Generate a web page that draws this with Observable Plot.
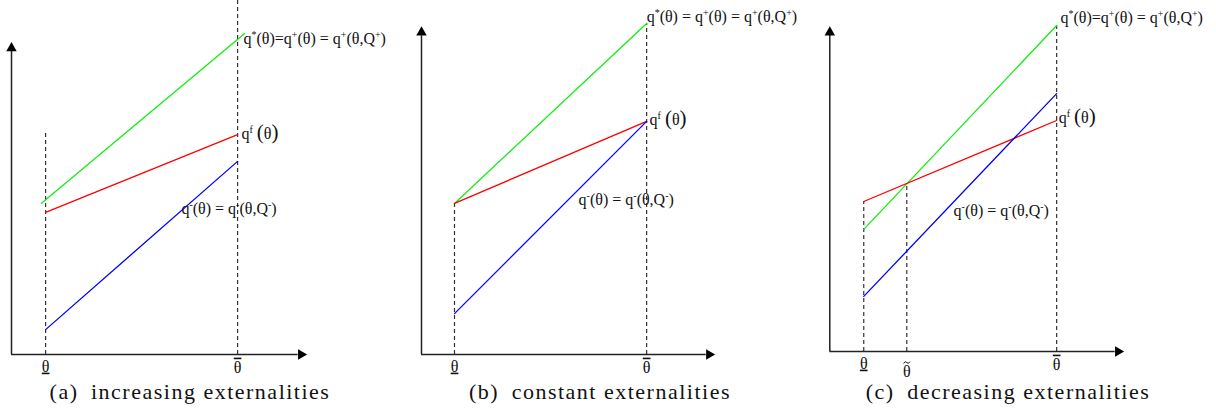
<!DOCTYPE html>
<html><head><meta charset="utf-8">
<script src="https://cdn.jsdelivr.net/npm/d3@7"></script>
<script src="https://cdn.jsdelivr.net/npm/@observablehq/plot@0.6"></script>
<style>
body{margin:0;background:#fff;}
#wrap{position:relative;width:1216px;height:414px;overflow:hidden;}
.panel{position:absolute;top:0;}
.cap{position:absolute;top:379px;font-family:"Liberation Serif","DejaVu Serif",serif;font-size:22px;letter-spacing:1.5px;line-height:26px;white-space:nowrap;transform:translateX(-50%);color:#111;}
</style></head><body><div id="wrap"></div>
<script>
// ---------- data (axes run 0..10 in each panel) ----------
const captions = ["(a)\u2002increasing externalities", "(b)\u2002constant externalities", "(c)\u2002decreasing externalities"];
const tickLabels = ["θ\u0332", "θ", "θ\u0304"]; // lower θ (underlined), θ-tilde (tilde drawn above), upper θ (overlined)
const thetaLow  = [1.16, 1.13, 1.16];
const thetaHigh = [7.69, 7.71, 7.75];
const thetaTilde = 2.63; // only panel (c)

// q*(θ) = q+(θ) (green)
const qStar = [
  [[1.02, 4.86], [7.93, 10.32]],
  [[1.13, 4.62], [7.71, 10.12]],
  [[1.16, 3.77], [7.75, 10.06]]
];
// q^f(θ) (red)
const qFirst = [
  [[1.16, 4.57], [7.69, 7.07]],
  [[1.13, 4.62], [7.71, 7.13]],
  [[1.16, 4.63], [7.75, 7.13]]
];
// q-(θ) (blue)
const qMinus = [
  [[1.16, 0.80], [7.69, 6.21]],
  [[1.13, 1.25], [7.71, 7.13]],
  [[1.16, 1.70], [7.75, 7.96]]
];
// tops of the dashed guides: [at θ_, at θ̄, at θ̃]
const guideTops = [
  [7.11, 11.38, null],
  [4.62, 10.12, null],
  [4.63, 10.06, 5.18]
];
const labelStar  = ["q^*(θ)=q^+(θ) = q^+(θ,Q^+)", "q^*(θ) = q^+(θ) = q^+(θ,Q^+)", "q^*(θ)=q^+(θ) = q^+(θ,Q^+)"];
const labelFirst = "q^f !(θ!)";
const labelMinus = "q^-(θ) = q^-(θ,Q^-)";
const labelPos = [ // [star, first, minus] anchor points (left edge)
  [[7.89, 10.16], [7.82, 7.11], [5.78, 4.69]],
  [[7.71, 10.31], [7.81, 7.19], [5.38, 4.74]],
  [[7.88, 10.31], [7.82, 7.22], [4.23, 4.35]]
];

// ---------- layout (pixels, style only) ----------
const layout = [
  {left: 0,   xr: [11, 305],   yr: [354, 43], cap: 190},
  {left: 405, xr: [16, 308],   yr: [354, 27], cap: 195},
  {left: 810, xr: [19.3, 312], yr: [351, 27], cap: 198}
];
const W = 406, H = 378;
const serif = "'Liberation Serif','DejaVu Serif',serif";

// small wavy accent drawn over θ̃
const tildeSymbol = {
  draw(ctx) {
    ctx.moveTo(-3.2, 0.9);
    ctx.quadraticCurveTo(-1.6, -2.1, 0, 0);
    ctx.quadraticCurveTo(1.6, 2.1, 3.2, -0.9);
  }
};

const wrap = document.getElementById("wrap");
const NS = "http://www.w3.org/2000/svg";

function tspan(t, txt, attrs) {
  const sp = document.createElementNS(NS, "tspan");
  sp.textContent = txt;
  for (const k in attrs) sp.setAttribute(k, attrs[k]);
  t.appendChild(sp);
  return sp;
}

function richText(svg) {
  svg.querySelectorAll("text").forEach(t => {
    const s = t.textContent;
    if (s.endsWith("\u0332")) { t.textContent = s.slice(0, -1); t.style.textDecoration = "underline"; return; }
    if (s.endsWith("\u0304")) { t.textContent = s.slice(0, -1); t.style.textDecoration = "overline"; return; }
    if (!s.includes("^")) return;
    while (t.firstChild) t.removeChild(t.firstChild);
    let buf = "";
    let raised = false;
    const flush = () => {
      if (!buf) return;
      tspan(t, buf, raised ? {dy: "6"} : {});
      raised = false;
      buf = "";
    };
    for (let i = 0; i < s.length; i++) {
      if (s[i] === "^") {
        flush();
        tspan(t, s[i + 1], {dy: raised ? "0" : "-6", "font-size": "10"});
        raised = true;
        i++;
      } else if (s[i] === "!") {
        flush();
        const a = {"font-size": "21"};
        if (raised) { a.dy = "6"; raised = false; }
        tspan(t, s[i + 1], a);
        i++;
      } else buf += s[i];
    }
    flush();
  });
}

layout.forEach((L, p) => {
  const lines = [
    ...qStar[p].map(([x, y]) => ({x, y, s: "star"})),
    ...qFirst[p].map(([x, y]) => ({x, y, s: "first"})),
    ...qMinus[p].map(([x, y]) => ({x, y, s: "minus"}))
  ];
  const guides = [
    {x: thetaLow[p], top: guideTops[p][0]},
    {x: thetaHigh[p], top: guideTops[p][1]}
  ];
  const ticksLow = [{x: thetaLow[p], t: tickLabels[0]}];
  const ticksHigh = [{x: thetaHigh[p], t: tickLabels[2]}];
  const ticksTilde = [];
  if (p === 2) {
    guides.push({x: thetaTilde, top: guideTops[p][2]});
    ticksTilde.push({x: thetaTilde, t: tickLabels[1]});
  }
  const labels = [
    {x: labelPos[p][0][0], y: labelPos[p][0][1], t: labelStar[p]},
    {x: labelPos[p][1][0], y: labelPos[p][1][1], t: labelFirst},
    {x: labelPos[p][2][0], y: labelPos[p][2][1], t: labelMinus}
  ];

  const chart = Plot.plot({
    width: W, height: H,
    x: {domain: [0, 10], range: L.xr, axis: null},
    y: {domain: [0, 10], range: L.yr, axis: null},
    color: {domain: ["star", "first", "minus"], range: ["#11ee11", "#ff0000", "#0000ff"]},
    style: {fontFamily: serif, fontSize: "14px", background: "white", overflow: "visible"},
    marks: [
      Plot.ruleX(guides, {x: "x", y1: 0, y2: "top", stroke: "#333", strokeWidth: 1.2, strokeDasharray: "4,3"}),
      Plot.line(lines, {x: "x", y: "y", z: "s", stroke: "s", strokeWidth: 1.3}),
      Plot.ruleY([0], {x1: 0, x2: 9.75, stroke: "#222", strokeWidth: 1.5}),
      Plot.ruleX([0], {y1: 0, y2: 9.75, stroke: "#222", strokeWidth: 1.5}),
      Plot.dot([{x: 9.85, y: 0}], {x: "x", y: "y", symbol: "triangle2", rotate: 90, r: 5, fill: "#000", stroke: null}),
      Plot.dot([{x: 0, y: 9.85}], {x: "x", y: "y", symbol: "triangle2", rotate: 0, r: 5, fill: "#000", stroke: null}),
      Plot.text(ticksLow, {x: "x", y: 0, text: "t", dy: 12, fontSize: 16, fill: "#111"}),
      Plot.text(ticksHigh, {x: "x", y: 0, text: "t", dy: 13, fontSize: 16, fill: "#111"}),
      Plot.text(ticksTilde, {x: "x", y: 0, text: "t", dy: 20, fontSize: 16, fill: "#111"}),
      Plot.dot(ticksTilde, {x: "x", y: 0, dy: 11, symbol: tildeSymbol, fill: "none", stroke: "#111", strokeWidth: 1}),
      Plot.text(labels, {x: "x", y: "y", text: "t", textAnchor: "start", fontSize: 16, fill: "#111"})
    ]
  });
  richText(chart);
  chart.classList.add("panel");
  chart.style.left = L.left + "px";
  wrap.appendChild(chart);

  const cap = document.createElement("div");
  cap.className = "cap";
  cap.style.left = (L.left + L.cap) + "px";
  cap.textContent = captions[p];
  wrap.appendChild(cap);
});
</script>
</body></html>
